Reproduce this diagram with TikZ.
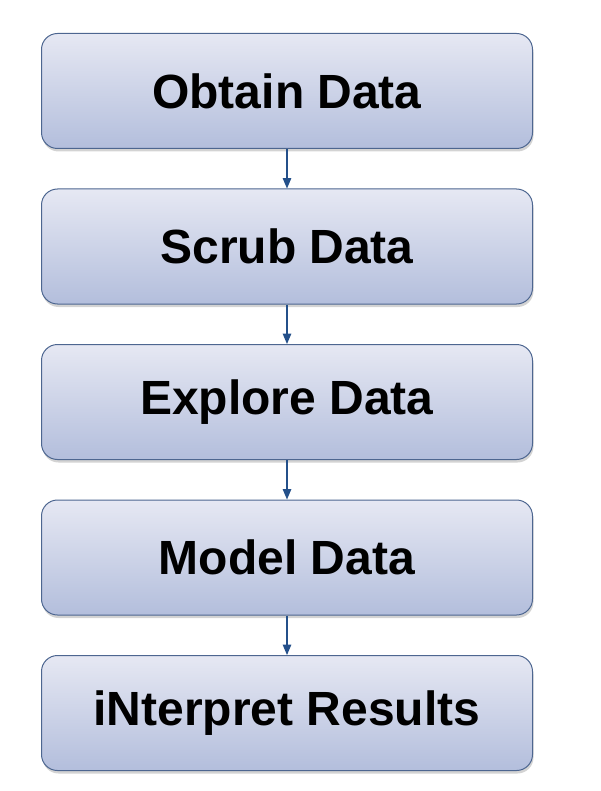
\documentclass[tikz,border=0pt]{standalone}
\usepackage{fontspec}
\setmainfont{Liberation Sans}
\usetikzlibrary{arrows,positioning,shadows}

\definecolor{boxtop}{HTML}{E6E8F3}
\definecolor{boxbottom}{HTML}{B3BEDC}
\definecolor{boxline}{HTML}{4D6690}
\definecolor{arrowblue}{HTML}{24508A}

\begin{document}
\begin{tikzpicture}[x=1pt,y=1pt,->,>=triangle 45,node distance=39.5pt,
        stage/.style={rectangle,rounded corners=16pt,draw=boxline,line width=1pt,
          top color=boxtop,bottom color=boxbottom,
          drop shadow={shadow xshift=1pt,shadow yshift=-3pt,opacity=0.35},
          minimum width=491pt,minimum height=115pt,
          font=\bfseries\fontsize{48}{52}\selectfont},
        link/.style={draw=arrowblue,line width=1.4pt}]

  \useasboundingbox (0,0) rectangle (601,-791);

  \node[stage] (obtain) at (287,-91) {Obtain Data};
  \node[stage] (scrub) [below=of obtain] {Scrub Data};
  \node[stage] (explore) [below=of scrub] {Explore Data};
  \node[stage] (model) [below=of explore] {Model Data};
  \node[stage] (interpret) [below=of model] {iNterpret Results};

  \path (obtain) edge [link] (scrub)
        (scrub) edge [link] (explore)
        (explore) edge [link] (model)
        (model) edge [link] (interpret);

\end{tikzpicture}
\end{document}
